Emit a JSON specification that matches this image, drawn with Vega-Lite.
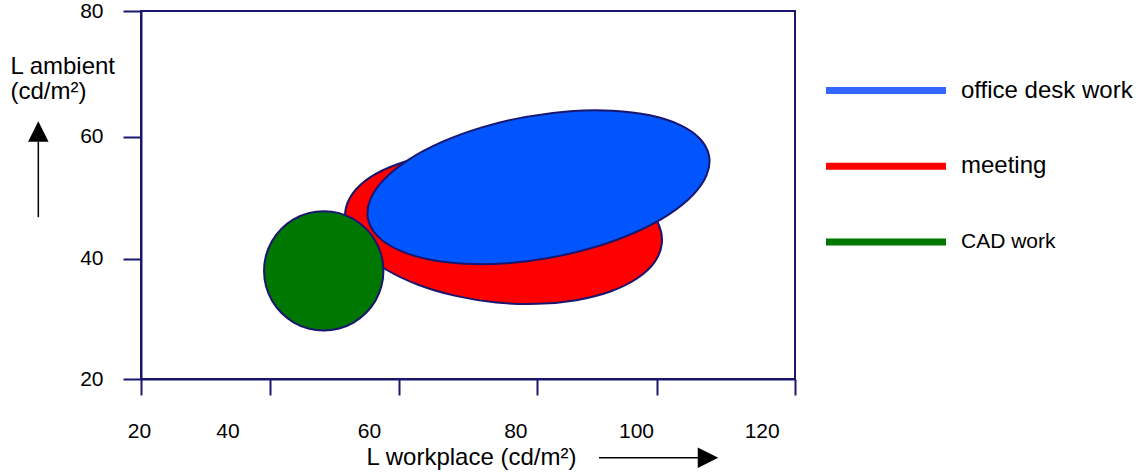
{
  "$schema": "https://vega.github.io/schema/vega-lite/v6.json",
  "width": 654,
  "height": 368,
  "autosize": {"type": "none"},
  "padding": {"left": 141, "top": 11, "right": 343, "bottom": 93},
  "background": "white",
  "config": {
    "font": "Liberation Sans",
    "view": {"stroke": "#1a166e", "strokeWidth": 2},
    "legend": {
      "orient": "none",
      "legendX": 681.5,
      "legendY": 64.5,
      "direction": "vertical",
      "padding": 0,
      "symbolType": "stroke",
      "symbolSize": 14400,
      "symbolStrokeWidth": 7,
      "clipHeight": 30,
      "rowPadding": 45.7,
      "labelOffset": 11.5,
      "labelColor": "#000",
      "labelLimit": 400
    }
  },
  "datasets": {
    "shapes": [
      {"task": "meeting", "i": 0, "x": 99.64, "y": 42.11},
      {"task": "meeting", "i": 1, "x": 98.53, "y": 39.05},
      {"task": "meeting", "i": 2, "x": 95.84, "y": 36.38},
      {"task": "meeting", "i": 3, "x": 91.77, "y": 34.26},
      {"task": "meeting", "i": 4, "x": 86.58, "y": 32.85},
      {"task": "meeting", "i": 5, "x": 80.63, "y": 32.25},
      {"task": "meeting", "i": 6, "x": 74.32, "y": 32.48},
      {"task": "meeting", "i": 7, "x": 68.10, "y": 33.55},
      {"task": "meeting", "i": 8, "x": 62.37, "y": 35.36},
      {"task": "meeting", "i": 9, "x": 57.53, "y": 37.81},
      {"task": "meeting", "i": 10, "x": 53.91, "y": 40.73},
      {"task": "meeting", "i": 11, "x": 51.76, "y": 43.90},
      {"task": "meeting", "i": 12, "x": 51.22, "y": 47.13},
      {"task": "meeting", "i": 13, "x": 52.33, "y": 50.19},
      {"task": "meeting", "i": 14, "x": 55.02, "y": 52.87},
      {"task": "meeting", "i": 15, "x": 59.09, "y": 54.98},
      {"task": "meeting", "i": 16, "x": 64.28, "y": 56.39},
      {"task": "meeting", "i": 17, "x": 70.23, "y": 57.00},
      {"task": "meeting", "i": 18, "x": 76.54, "y": 56.76},
      {"task": "meeting", "i": 19, "x": 82.77, "y": 55.70},
      {"task": "meeting", "i": 20, "x": 88.50, "y": 53.88},
      {"task": "meeting", "i": 21, "x": 93.33, "y": 51.43},
      {"task": "meeting", "i": 22, "x": 96.95, "y": 48.52},
      {"task": "meeting", "i": 23, "x": 99.10, "y": 45.34},
      {"task": "office desk work", "i": 0, "x": 106.86, "y": 56.38},
      {"task": "office desk work", "i": 1, "x": 106.48, "y": 53.24},
      {"task": "office desk work", "i": 2, "x": 104.35, "y": 49.96},
      {"task": "office desk work", "i": 3, "x": 100.62, "y": 46.77},
      {"task": "office desk work", "i": 4, "x": 95.53, "y": 43.89},
      {"task": "office desk work", "i": 5, "x": 89.44, "y": 41.52},
      {"task": "office desk work", "i": 6, "x": 82.75, "y": 39.80},
      {"task": "office desk work", "i": 7, "x": 75.94, "y": 38.87},
      {"task": "office desk work", "i": 8, "x": 69.45, "y": 38.79},
      {"task": "office desk work", "i": 9, "x": 63.74, "y": 39.55},
      {"task": "office desk work", "i": 10, "x": 59.18, "y": 41.12},
      {"task": "office desk work", "i": 11, "x": 56.10, "y": 43.37},
      {"task": "office desk work", "i": 12, "x": 54.70, "y": 46.16},
      {"task": "office desk work", "i": 13, "x": 55.08, "y": 49.31},
      {"task": "office desk work", "i": 14, "x": 57.21, "y": 52.58},
      {"task": "office desk work", "i": 15, "x": 60.94, "y": 55.77},
      {"task": "office desk work", "i": 16, "x": 66.03, "y": 58.65},
      {"task": "office desk work", "i": 17, "x": 72.12, "y": 61.02},
      {"task": "office desk work", "i": 18, "x": 78.81, "y": 62.74},
      {"task": "office desk work", "i": 19, "x": 85.62, "y": 63.67},
      {"task": "office desk work", "i": 20, "x": 92.11, "y": 63.75},
      {"task": "office desk work", "i": 21, "x": 97.83, "y": 62.99},
      {"task": "office desk work", "i": 22, "x": 102.38, "y": 61.43},
      {"task": "office desk work", "i": 23, "x": 105.46, "y": 59.17},
      {"task": "CAD work", "i": 0, "x": 57.07, "y": 37.64},
      {"task": "CAD work", "i": 1, "x": 56.76, "y": 40.16},
      {"task": "CAD work", "i": 2, "x": 55.85, "y": 42.51},
      {"task": "CAD work", "i": 3, "x": 54.39, "y": 44.52},
      {"task": "CAD work", "i": 4, "x": 52.50, "y": 46.07},
      {"task": "CAD work", "i": 5, "x": 50.30, "y": 47.04},
      {"task": "CAD work", "i": 6, "x": 47.94, "y": 47.37},
      {"task": "CAD work", "i": 7, "x": 45.58, "y": 47.04},
      {"task": "CAD work", "i": 8, "x": 43.38, "y": 46.07},
      {"task": "CAD work", "i": 9, "x": 41.49, "y": 44.52},
      {"task": "CAD work", "i": 10, "x": 40.04, "y": 42.51},
      {"task": "CAD work", "i": 11, "x": 39.12, "y": 40.16},
      {"task": "CAD work", "i": 12, "x": 38.81, "y": 37.64},
      {"task": "CAD work", "i": 13, "x": 39.12, "y": 35.12},
      {"task": "CAD work", "i": 14, "x": 40.04, "y": 32.77},
      {"task": "CAD work", "i": 15, "x": 41.49, "y": 30.76},
      {"task": "CAD work", "i": 16, "x": 43.38, "y": 29.21},
      {"task": "CAD work", "i": 17, "x": 45.58, "y": 28.24},
      {"task": "CAD work", "i": 18, "x": 47.94, "y": 27.91},
      {"task": "CAD work", "i": 19, "x": 50.30, "y": 28.24},
      {"task": "CAD work", "i": 20, "x": 52.50, "y": 29.21},
      {"task": "CAD work", "i": 21, "x": 54.39, "y": 30.76},
      {"task": "CAD work", "i": 22, "x": 55.85, "y": 32.77},
      {"task": "CAD work", "i": 23, "x": 56.76, "y": 35.12}
    ]
  },
  "encoding": {
    "x": {
      "field": "x",
      "type": "quantitative",
      "scale": {"domain": [20, 120], "nice": false, "zero": false},
      "axis": {
        "values": [20, 39.72, 59.45, 80.55, 98.9, 120],
        "labelExpr": "round(datum.value / 20) * 20",
        "labelOffset": {"expr": "datum.value < 30 ? -2 : datum.value < 50 ? -42.5 : datum.value < 70 ? -30 : datum.value < 90 ? -21.7 : datum.value < 110 ? -21 : -33.3"},
        "labelFlush": false,
        "labelOverlap": false,
        "labelBound": false,
        "grid": false,
        "domainColor": "#1a166e",
        "domainWidth": 2,
        "tickColor": "#1a166e",
        "tickWidth": 2,
        "tickSize": 16,
        "labelFontSize": 21,
        "labelColor": "#000",
        "labelBaseline": "alphabetic",
        "labelPadding": 42.5,
        "title": "L workplace (cd/m²)",
        "titleFontSize": 24,
        "titleFontWeight": "normal",
        "titleColor": "#000",
        "titleX": 330,
        "titleY": 85,
        "titleAlign": "center",
        "titleBaseline": "alphabetic"
      }
    },
    "y": {
      "field": "y",
      "type": "quantitative",
      "scale": {"domain": [20, 80], "nice": false, "zero": false},
      "axis": {
        "values": [20, 39.57, 59.51, 80],
        "labelExpr": "round(datum.value / 20) * 20",
        "labelFlush": false,
        "labelOverlap": false,
        "labelBound": false,
        "grid": false,
        "domainColor": "#1a166e",
        "domainWidth": 2,
        "tickColor": "#1a166e",
        "tickWidth": 2,
        "tickSize": 18,
        "labelFontSize": 21,
        "labelColor": "#000",
        "labelPadding": 20,
        "title": ["L ambient", "(cd/m²)"],
        "titleAngle": 0,
        "titleFontSize": 24,
        "titleFontWeight": "normal",
        "titleColor": "#000",
        "titleLineHeight": 25,
        "titleX": -131,
        "titleY": 62,
        "titleAlign": "left",
        "titleBaseline": "alphabetic"
      }
    }
  },
  "layer": [
    {
      "data": {"name": "shapes"},
      "transform": [{"filter": "datum.task == 'meeting'"}],
      "mark": {"type": "line", "interpolate": "cardinal-closed", "stroke": "#1a166e", "strokeWidth": 2},
      "encoding": {
        "order": {"field": "i", "type": "quantitative"},
        "fill": {
          "field": "task",
          "type": "nominal",
          "scale": {"domain": ["office desk work", "meeting", "CAD work"], "range": ["#0055ff", "#ff0000", "#007700"]},
          "legend": {
            "title": null,
            "symbolStrokeColor": {"expr": "datum.value == 'office desk work' ? '#3366ff' : datum.value == 'meeting' ? '#ff0000' : '#007700'"},
            "labelFontSize": {"expr": "datum.label == 'CAD work' ? 21 : 24"}
          }
        }
      }
    },
    {
      "data": {"name": "shapes"},
      "transform": [{"filter": "datum.task == 'office desk work'"}],
      "mark": {"type": "line", "interpolate": "cardinal-closed", "stroke": "#1a166e", "strokeWidth": 2},
      "encoding": {
        "order": {"field": "i", "type": "quantitative"},
        "fill": {
          "field": "task",
          "type": "nominal",
          "legend": {
            "title": null,
            "symbolStrokeColor": {"expr": "datum.value == 'office desk work' ? '#3366ff' : datum.value == 'meeting' ? '#ff0000' : '#007700'"},
            "labelFontSize": {"expr": "datum.label == 'CAD work' ? 21 : 24"}
          }
        }
      }
    },
    {
      "data": {"name": "shapes"},
      "transform": [{"filter": "datum.task == 'CAD work'"}],
      "mark": {"type": "line", "interpolate": "cardinal-closed", "stroke": "#1a166e", "strokeWidth": 2},
      "encoding": {
        "order": {"field": "i", "type": "quantitative"},
        "fill": {
          "field": "task",
          "type": "nominal",
          "legend": {
            "title": null,
            "symbolStrokeColor": {"expr": "datum.value == 'office desk work' ? '#3366ff' : datum.value == 'meeting' ? '#ff0000' : '#007700'"},
            "labelFontSize": {"expr": "datum.label == 'CAD work' ? 21 : 24"}
          }
        }
      }
    },
    {
      "data": {"name": "shapes"},
      "transform": [{"filter": "datum.task == 'CAD work' && datum.i == 0"}],
      "mark": {"type": "rule", "stroke": "#000", "strokeWidth": 1.5, "clip": false},
      "encoding": {
        "x": {"datum": 4.3, "type": "quantitative"},
        "y": {"datum": 46.39, "type": "quantitative"},
        "y2": {"datum": 58.71}
      }
    },
    {
      "data": {"name": "shapes"},
      "transform": [{"filter": "datum.task == 'CAD work' && datum.i == 0"}],
      "mark": {"type": "point", "shape": "M0,-1L1,1L-1,1Z", "filled": true, "fill": "#000", "strokeWidth": 0, "opacity": 1, "size": 420, "clip": false},
      "encoding": {
        "x": {"datum": 4.3, "type": "quantitative"},
        "y": {"datum": 60.34, "type": "quantitative"}
      }
    },
    {
      "data": {"name": "shapes"},
      "transform": [{"filter": "datum.task == 'CAD work' && datum.i == 0"}],
      "mark": {"type": "rule", "stroke": "#000", "strokeWidth": 1.5, "clip": false},
      "encoding": {
        "x": {"datum": 90.03, "type": "quantitative"},
        "x2": {"datum": 105.17},
        "y": {"datum": 7.18, "type": "quantitative"}
      }
    },
    {
      "data": {"name": "shapes"},
      "transform": [{"filter": "datum.task == 'CAD work' && datum.i == 0"}],
      "mark": {"type": "point", "shape": "M1,0L-1,-1L-1,1Z", "filled": true, "fill": "#000", "strokeWidth": 0, "opacity": 1, "size": 420, "clip": false},
      "encoding": {
        "x": {"datum": 106.7, "type": "quantitative"},
        "y": {"datum": 7.18, "type": "quantitative"}
      }
    }
  ]
}
